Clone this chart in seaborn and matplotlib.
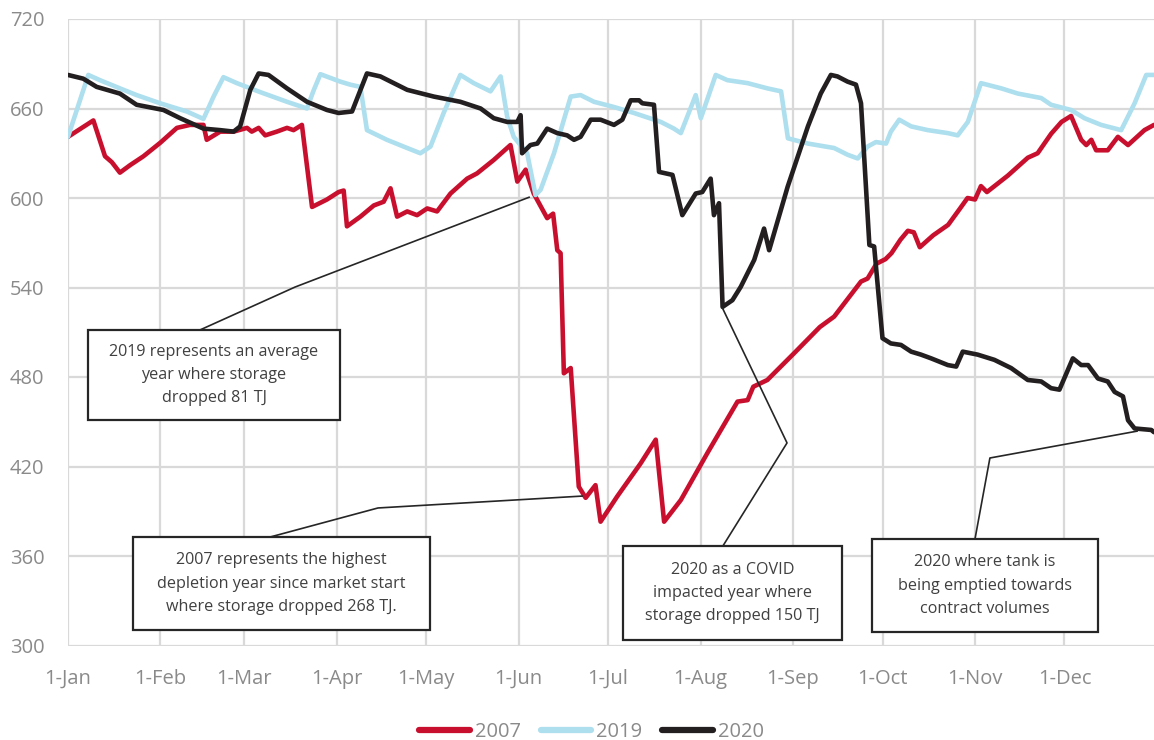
import matplotlib
matplotlib.use("Agg")
import matplotlib.pyplot as plt
import pandas as pd
import seaborn as sns
from matplotlib.patches import Rectangle

# ---- data: day of year (0 = 1-Jan) and storage level (TJ) ----
days_2007 = [0, 8.5, 12.4, 14.7, 17.4, 20.8, 25.3, 30.9, 36.5, 40.9, 45.4, 46.5, 51, 55.5,
             60, 61.6, 63.9, 66.1, 70, 73.4, 75.6, 78.4, 81.8, 86.8, 90.7, 92.4, 93.5, 98,
             102.5, 105.8, 108.1, 110.3, 113.7, 117, 120.4, 123.7, 128.2, 133.8, 137.1,
             142.7, 148.3, 150.6, 153.4, 156.1, 160.6, 162.6, 164, 165.1, 166.2, 168.5,
             171.2, 173.5, 176.8, 178.5, 184.1, 191.9, 197, 199.8, 205.4, 214.3, 224.4,
             227.8, 229.7, 234.4, 243.4, 252, 256.8, 265.8, 268, 271, 274, 276, 279,
             281.5, 283.5, 285.5, 290, 295, 299, 301.5, 304, 306, 308, 315, 321.7, 325,
             329.5, 333, 336.2, 339.6, 341.3, 343, 344.6, 348.5, 351.9, 355.3, 360.8, 364]
vals_2007 = [641, 652, 628, 624, 617, 622, 628, 637, 647, 649, 649, 639, 644.5, 644.5,
             647, 644.5, 647, 642, 644.5, 647, 645.5, 649, 594, 599, 604, 605, 581, 587.5,
             595, 597.5, 606.5, 587.5, 591, 588.5, 593, 591, 603, 613, 616.5, 625.5, 635.5,
             611, 619, 603, 586.5, 589.5, 565, 563, 482.5, 486, 406.5, 399, 407.5, 383,
             400, 422, 438, 383, 397.5, 429, 463.5, 464.5, 473.5, 478, 496, 513.5, 520.5,
             544, 546, 556, 559, 563, 572, 578, 577, 567, 575, 582, 593, 600, 599, 608,
             604, 615, 627, 630, 643, 651, 655, 639, 635.5, 639, 632, 632, 641, 635.5,
             645.5, 649]

days_2019 = [0, 6.8, 10.7, 17.4, 23, 30.9, 39.8, 45.4, 48.8, 52.1, 56.6, 64.4, 73.4, 80.1,
             82.3, 84.6, 91.3, 94.6, 98, 100.2, 106.9, 113.7, 118.1, 121.5, 125.9, 131.5,
             136, 141.6, 145, 147.2, 149.4, 153.9, 156.7, 158.4, 162.9, 168.5, 171.8, 176.3,
             183, 189.7, 198.7, 203.1, 205.4, 210.4, 212.1, 217.1, 221, 227.8, 234.4, 239,
             241.3, 248, 256.8, 261.3, 264.7, 268, 270.8, 274.2, 275.8, 278.6, 282.6, 288.2,
             294.9, 298.2, 301.6, 306, 312.8, 318.4, 326.2, 329.5, 336.2, 340.7, 346.3, 353,
             357.5, 361.4, 364]
vals_2019 = [641, 682.5, 679, 673.5, 669, 663.5, 658, 653, 668, 681, 677, 671, 664.5, 660,
             672, 683, 678, 676, 674.5, 645.5, 639, 633.5, 630, 634.5, 657, 682.5, 677,
             671.5, 681.5, 654.5, 641, 630, 602, 605.5, 630, 668, 669, 664.5, 661, 657,
             651, 646.5, 643.5, 669, 653.5, 682.5, 679, 677, 673.5, 671.5, 640, 636.5, 633.5,
             629, 626.5, 634.5, 637.5, 636.5, 644.5, 652.5, 648, 645.5, 643.5, 642, 651,
             677, 673.5, 670, 667, 662.5, 659, 653.5, 649, 645.5, 663.5, 682.5, 682.5]

days_2020 = [0, 5.1, 9.6, 17.4, 23, 32, 37.6, 45.4, 51, 55.5, 57.7, 61.1, 63.9, 67.2, 73.4,
             80.1, 86.8, 90.7, 95.2, 100.2, 104.7, 113.7, 122.6, 131.5, 138.3, 142.7, 147.2,
             150.6, 151.7, 152.2, 155, 157.3, 160.6, 164, 167.3, 169.6, 171.8, 175.2, 178.5,
             183, 185.8, 188.6, 191.4, 192.5, 196.4, 198.1, 202.6, 205.9, 210.4, 212.6,
             215.4, 216.5, 218.2, 219.4, 222.7, 225.5, 230, 233.3, 235, 241.2, 248, 252.3,
             255.7, 257.9, 261.3, 264.1, 265.8, 268.6, 270.2, 273, 275.8, 279.2, 282.6,
             285.9, 289.3, 294.9, 297.7, 299.9, 304.9, 310.5, 316.1, 321.7, 326.2, 329.5,
             332.3, 336.8, 339.6, 341.9, 345.2, 348.5, 350.8, 353.6, 355.3, 357.5, 363.1, 364]
vals_2020 = [682.5, 680, 674.5, 670, 662.5, 659, 653.5, 646.5, 645.5, 644.5, 648, 672.5,
             683.5, 682.5, 673.5, 664.5, 659, 657, 658, 683.5, 681.5, 672.5, 668, 664.5, 660,
             653.5, 651, 651, 655.5, 630, 635.5, 636.5, 646.5, 643.5, 642, 639, 641, 652.5,
             652.5, 649, 652.5, 665.5, 665.5, 663.5, 662.5, 617.5, 615.5, 588.5, 603, 604,
             613, 588.5, 596.5, 527, 531.5, 540.5, 558.5, 579.5, 565, 607.5, 648, 670, 682.5,
             681.5, 678, 676, 663.5, 568.5, 567.5, 506, 502.5, 501.5, 497, 495, 492.5, 488,
             487, 497, 495, 491.5, 486, 478, 477, 472.5, 471.5, 492.5, 488, 488, 479, 477,
             470, 467, 451, 445.5, 444.5, 443]

years = ["2007", "2019", "2020"]
series_colors = ["#C8102E", "#ADDFEE", "#231F20"]

month_starts = [0, 31, 59, 90, 120, 151, 181, 212, 243, 273, 304, 334]
month_labels = ["1-Jan", "1-Feb", "1-Mar", "1-Apr", "1-May", "1-Jun",
                "1-Jul", "1-Aug", "1-Sep", "1-Oct", "1-Nov", "1-Dec"]
y_ticks = [300, 360, 420, 480, 540, 600, 660, 720]

notes = [
    "2019 represents an average\nyear where storage\ndropped 81 TJ",
    "2007 represents the highest\ndepletion year since market start\nwhere storage dropped 268 TJ.",
    "2020 as a COVID\nimpacted year where\nstorage dropped 150 TJ",
    "2020 where tank is\nbeing emptied towards\ncontract volumes",
]
# note boxes: (day_left, day_right, value_bottom, value_top)
note_boxes = [(6.7, 91.2, 451.2, 511.5),
              (21.8, 121.3, 310.4, 372.7),
              (186.0, 259.4, 303.7, 366.7),
              (269.4, 345.2, 309.0, 371.4)]
# leader lines from each box to its curve
note_leaders = [([44.2, 76.1, 154.8], [511.5, 540.3, 600.7]),
                ([67.7, 103.9, 172.6], [372.7, 392.2, 400.2]),
                ([219.5, 241.0, 219.2], [366.7, 435.8, 526.9]),
                ([304.0, 309.0, 358.6], [371.4, 425.7, 443.8])]

# ---- build long-form table ----
frames = []
for yr, d, v in zip(years, [days_2007, days_2019, days_2020],
                    [vals_2007, vals_2019, vals_2020]):
    frames.append(pd.DataFrame({"day": d, "storage": v, "year": yr}))
df = pd.concat(frames, ignore_index=True)

sns.set_theme(style="whitegrid")
plt.rcParams["font.family"] = ["Open Sans", "DejaVu Sans"]

W, H = 1154, 740
fig = plt.figure(figsize=(W / 100, H / 100), dpi=100)
ax = fig.add_axes([68 / W, 1 - 645.5 / H, 1 - 68 / W, (645.5 - 19) / H])

sns.lineplot(data=df, x="day", y="storage", hue="year",
             palette=dict(zip(years, series_colors)), hue_order=years,
             estimator=None, sort=False, linewidth=3.3, ax=ax, zorder=3,
             solid_joinstyle="round", solid_capstyle="round")

ax.set_xlim(0, 364)
ax.set_ylim(300, 720)
ax.set_xticks(month_starts)
ax.set_xticklabels(month_labels)
ax.set_yticks(y_ticks)
ax.set_xlabel("")
ax.set_ylabel("")
ax.grid(True, color="#D9D9D9", linewidth=1.6)
ax.set_axisbelow(True)
for s in ax.spines.values():
    s.set_visible(False)
ax.tick_params(axis="x", length=0, pad=17, labelsize=14.5, labelcolor="#8A8A8A")
ax.tick_params(axis="y", length=0, pad=17, labelsize=14.5, labelcolor="#8A8A8A")

# annotation boxes and leader lines
for (x0, x1, y0, y1), txt, (lx, ly) in zip(note_boxes, notes, note_leaders):
    ax.plot(lx, ly, color="#262626", linewidth=1.2, zorder=4, solid_capstyle="butt")
    ax.add_patch(Rectangle((x0, y0), x1 - x0, y1 - y0, facecolor="white",
                           edgecolor="#262626", linewidth=1.6, zorder=5))
    ax.text((x0 + x1) / 2, (y0 + y1) / 2, txt, ha="center", va="center",
            fontsize=11.6, color="#404040", linespacing=1.62, zorder=6)

# legend under the axis
handles, labels = ax.get_legend_handles_labels()
ax.get_legend().remove()
leg = fig.legend(handles, labels, loc="center", bbox_to_anchor=(0.5126, 0.0112),
                 ncol=3, frameon=False, fontsize=14.5, handlelength=2.5,
                 handletextpad=0.25, columnspacing=1.0, labelcolor="#8A8A8A")
for line in leg.get_lines():
    line.set_linewidth(4.5)

fig.savefig("out.png", dpi=100)
